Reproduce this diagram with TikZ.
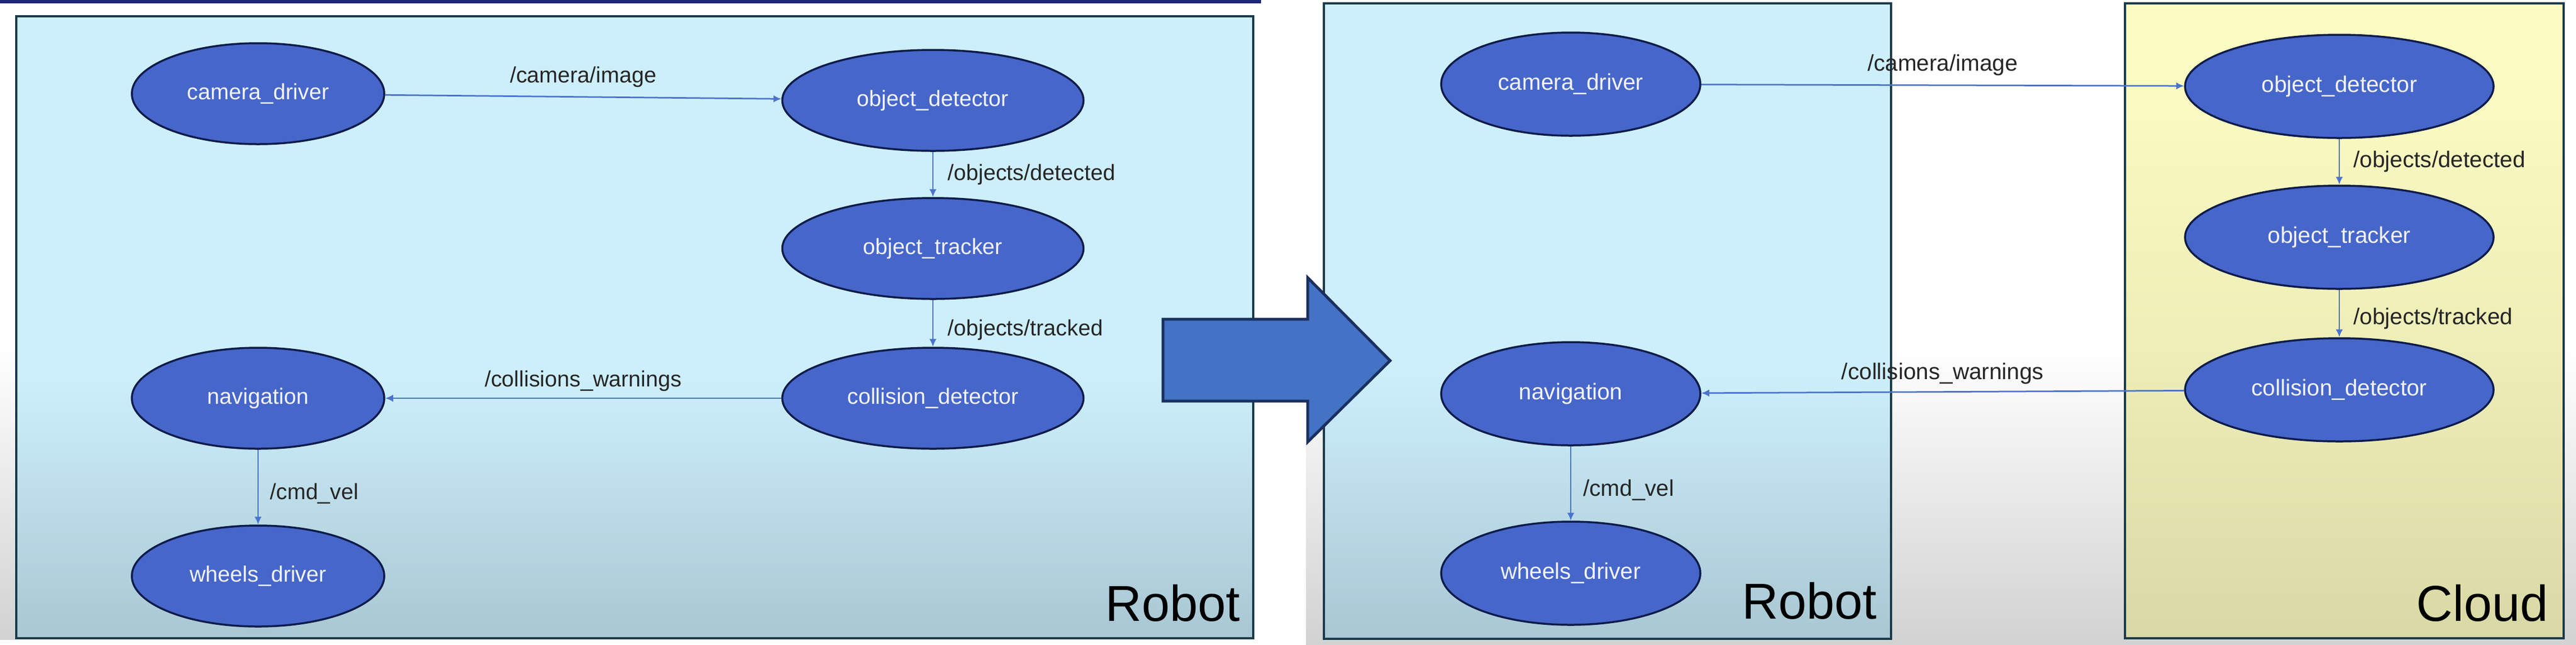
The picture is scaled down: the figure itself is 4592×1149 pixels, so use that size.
\documentclass[tikz,border=0pt]{standalone}
\usepackage{fontspec}
\setmainfont{Liberation Sans}
\usetikzlibrary{shapes.geometric,arrows.meta}
\definecolor{topbar}{HTML}{1E2678}
\definecolor{paneltop}{HTML}{CDEFFC}
\definecolor{panelbot}{HTML}{A9C7D3}
\definecolor{cloudtop}{HTML}{FBFCC2}
\definecolor{cloudmid}{HTML}{EEEEB8}
\definecolor{cloudbot}{HTML}{D9D9A6}
\definecolor{panelline}{HTML}{1C3A4A}
\definecolor{nodefill}{HTML}{4666CA}
\definecolor{nodeline}{HTML}{0E1C4A}
\definecolor{nodetext}{HTML}{F2F3FA}
\definecolor{edgecol}{HTML}{4B73CC}
\definecolor{bigarrow}{HTML}{4472C4}
\definecolor{bigarrowline}{HTML}{1A3060}
\definecolor{shadowgray}{HTML}{D2D2D2}
\pgfdeclareverticalshading{bgshade}{100bp}{color(0bp)=(shadowgray); color(25bp)=(shadowgray); color(48bp)=(white); color(75bp)=(white); color(100bp)=(white)}
\pgfdeclareverticalshading{robotshade}{100bp}{color(0bp)=(panelbot); color(25bp)=(panelbot); color(46bp)=(paneltop); color(75bp)=(paneltop); color(100bp)=(paneltop)}
\pgfdeclareverticalshading{cloudshade}{100bp}{color(0bp)=(cloudbot); color(25bp)=(cloudbot); color(48bp)=(cloudmid); color(70bp)=(cloudtop); color(100bp)=(cloudtop)}
\begin{document}
\begin{tikzpicture}[x=0.2pt,y=-0.2pt,
  rn/.style={ellipse, draw=nodeline, line width=0.7pt, fill=nodefill,
    text=nodetext, font=\fontsize{7.9pt}{9pt}\selectfont, inner sep=0pt},
  lsmall/.style={rn, minimum width=90pt, minimum height=36pt},
  lbig/.style={rn, minimum width=107.4pt, minimum height=36pt},
  rsmall/.style={rn, minimum width=92.4pt, minimum height=36.8pt, font=\fontsize{8.1pt}{9pt}\selectfont},
  rbig/.style={rn, minimum width=110pt, minimum height=36.8pt, font=\fontsize{8.1pt}{9pt}\selectfont},
  edge/.style={draw=edgecol, line width=0.55pt, -{Latex[length=2.8pt,width=2.6pt]}},
  lbl/.style={font=\fontsize{7.9pt}{9pt}\selectfont, text=black!85, inner sep=0pt},
  rlbl/.style={lbl, font=\fontsize{8.1pt}{9pt}\selectfont},
  panel/.style={draw=panelline, line width=0.8pt},
  title/.style={font=\fontsize{18pt}{20pt}\selectfont, text=black, inner sep=0pt, anchor=base east}]
\useasboundingbox (0,0) rectangle (4592,1149);
% backgrounds
\fill[white] (0,0) rectangle (4592,1149);
\shade[shading=bgshade] (0,6) rectangle (28,1140);
\fill[topbar] (0,0) rectangle (2248,6);
\shade[shading=bgshade] (2328,0) rectangle (4592,1149);
% panels
\shade[shading=robotshade] (29,29) rectangle (2234,1138);
\draw[panel] (29,29) rectangle (2234,1138);
\shade[shading=robotshade] (2360,6) rectangle (3371,1139);
\draw[panel] (2360,6) rectangle (3371,1139);
\shade[shading=cloudshade] (3788,6) rectangle (4570,1138);
\draw[panel] (3788,6) rectangle (4570,1138);
% left diagram
\node[lsmall] (lcam) at (460,167) {camera\_driver};
\node[lbig] (ldet) at (1663,179) {object\_detector};
\node[lbig] (ltrk) at (1663,443) {object\_tracker};
\node[lbig] (lcol) at (1663,710) {collision\_detector};
\node[lsmall] (lnav) at (460,710) {navigation};
\node[lsmall] (lwhl) at (460,1027) {wheels\_driver};
\draw[edge] (lcam) -- node[lbl, midway, yshift=7.2pt] {/camera/image} (ldet);
\draw[edge] (ldet) -- node[lbl, midway, anchor=west, xshift=5pt] {/objects/detected} (ltrk);
\draw[edge] (ltrk) -- node[lbl, midway, anchor=west, xshift=5pt, yshift=-2.4pt] {/objects/tracked} (lcol);
\draw[edge] (lcol) -- node[lbl, midway, yshift=6.2pt] {/collisions\_warnings} (lnav);
\draw[edge] (lnav) -- node[lbl, midway, anchor=west, xshift=4pt, yshift=-2.4pt] {/cmd\_vel} (lwhl);
\node[title] (lrobot) at (2212,1107) {Robot};
% big arrow
\draw[fill=bigarrow, draw=bigarrowline, line width=1pt, line join=miter]
  (2073,569) -- (2331,569) -- (2331,495) -- (2478,643) -- (2331,788) -- (2331,715) -- (2073,715) -- cycle;
% right diagram
\node[rsmall] (rcam) at (2800,150) {camera\_driver};
\node[rsmall] (rnav) at (2800,702) {navigation};
\node[rsmall] (rwhl) at (2800,1022) {wheels\_driver};
\node[rbig] (rdet) at (4170,154) {object\_detector};
\node[rbig] (rtrk) at (4170,423) {object\_tracker};
\node[rbig] (rcol) at (4170,695) {collision\_detector};
\draw[edge] (rcam) -- node[rlbl, midway, yshift=7.2pt] {/camera/image} (rdet);
\draw[edge] (rdet) -- node[rlbl, midway, anchor=west, xshift=4.8pt] {/objects/detected} (rtrk);
\draw[edge] (rtrk) -- node[rlbl, midway, anchor=west, xshift=4.8pt, yshift=-1.8pt] {/objects/tracked} (rcol);
\draw[edge] (rcol) -- node[rlbl, midway, yshift=6.6pt] {/collisions\_warnings} (rnav);
\draw[edge] (rnav) -- node[rlbl, midway, anchor=west, xshift=4.2pt, yshift=-2.4pt] {/cmd\_vel} (rwhl);
\node[title] (rrobot) at (3347,1103) {Robot};
\node[title] (rcloud) at (4544,1107) {Cloud};
\end{tikzpicture}
\end{document}
